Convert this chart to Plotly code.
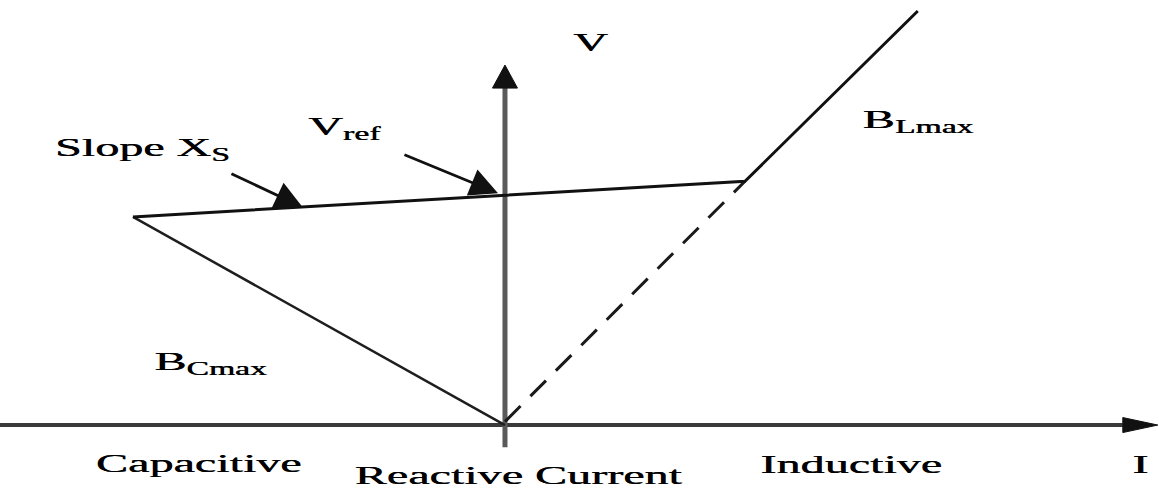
import plotly.graph_objects as go

# --- SVC steady-state V-I characteristic (per-unit) ---------------------
# Control range: slope line through V_ref
slope_I = [-1.55, 0.0, 1.0]
slope_V = [0.905, 1.0, 1.06]
# Inductive limit (B_Lmax) continuing above the knee
bl_I = [1.0, 1.72]
bl_V = [1.06, 1.80]
# Capacitive limit (B_Cmax) down to the origin
bc_I = [-1.55, 0.0]
bc_V = [0.905, 0.0]
# Extension of the B_Lmax line back to the origin
ext_I = [0.0, 1.0]
ext_V = [0.015, 1.06]

# Axis extents
I_min, I_max = -2.104, 2.725
V_min, V_max = -0.278, 1.848
I_axis_tip = 2.72
V_axis_tip = 1.565
V_axis_bottom = -0.096

# Pixel scale of the drawing (px per unit) for arrowhead sizes
PX_I, PX_V = 240.0, 230.0

labels = [
    # text, I, V
    ("V", 0.358, 1.665),
    ("V<sub>ref</sub>", -0.667, 1.29),
    ("Slope X<sub>S</sub>", -1.512, 1.20),
    ("B<sub>Lmax</sub>", 1.72, 1.32),
    ("B<sub>Cmax</sub>", -1.225, 0.27),
    ("Capacitive", -1.279, -0.168),
    ("Reactive Current", 0.058, -0.218),
    ("Inductive", 1.442, -0.172),
    ("I", 2.646, -0.172),
]

# Pointer arrows: (tail_I, tail_V, head_I, head_V)
pointers = [
    (-1.146, 1.096, -0.842, 0.946),
    (-0.425, 1.178, -0.029, 1.008),
]

fig = go.Figure()

# Horizontal (current) axis with arrowhead
h_len = 35 / PX_I
h_half = 7.5 / PX_V
fig.add_trace(go.Scatter(
    x=[I_min, I_axis_tip - h_len], y=[0, 0], mode="lines",
    line=dict(color="#3a3a3a", width=4), hoverinfo="skip"))
fig.add_trace(go.Scatter(
    x=[I_axis_tip - h_len, I_axis_tip, I_axis_tip - h_len, I_axis_tip - h_len],
    y=[h_half, 0, -h_half, h_half], mode="lines", fill="toself",
    fillcolor="#111111", line=dict(color="#111111", width=1), hoverinfo="skip"))

# Vertical (voltage) axis with arrowhead
v_len = 23 / PX_V
v_half = 12.5 / PX_I
fig.add_trace(go.Scatter(
    x=[0, 0], y=[V_axis_bottom, V_axis_tip - v_len], mode="lines",
    line=dict(color="#5a5a5a", width=5), hoverinfo="skip"))
fig.add_trace(go.Scatter(
    x=[-v_half, 0, v_half, -v_half],
    y=[V_axis_tip - v_len, V_axis_tip, V_axis_tip - v_len, V_axis_tip - v_len],
    mode="lines", fill="toself", fillcolor="#111111",
    line=dict(color="#111111", width=1), hoverinfo="skip"))

# Characteristic branches
fig.add_trace(go.Scatter(x=ext_I, y=ext_V, mode="lines",
                         line=dict(color="#1a1a1a", width=3, dash="22px,14px"),
                         hoverinfo="skip"))
fig.add_trace(go.Scatter(x=bc_I, y=bc_V, mode="lines",
                         line=dict(color="#1e1e1e", width=2.5), hoverinfo="skip"))
fig.add_trace(go.Scatter(x=slope_I + bl_I[1:], y=slope_V + bl_V[1:], mode="lines",
                         line=dict(color="#111111", width=3), hoverinfo="skip"))

annotations = []
for text, xi, yv in labels:
    annotations.append(dict(
        x=xi, y=yv, xref="x", yref="y", text=text, showarrow=False,
        xanchor="center", yanchor="middle",
        font=dict(family="Liberation Serif, Times New Roman, serif",
                  size=26, color="#000000",
                  shadow="0.6px 0 0 #000000")))

# Pointer arrows onto the slope line and V_ref
for tx, ty, hx, hy in pointers:
    annotations.append(dict(
        x=hx, y=hy, ax=tx, ay=ty, xref="x", yref="y", axref="x", ayref="y",
        text="", showarrow=True, arrowhead=2, arrowsize=2.0,
        arrowwidth=2.8, arrowcolor="#111111", standoff=0))

fig.update_layout(
    width=1159, height=489, autosize=False,
    margin=dict(l=0, r=0, t=0, b=0),
    paper_bgcolor="#ffffff", plot_bgcolor="#ffffff",
    showlegend=False,
    xaxis=dict(range=[I_min, I_max], visible=False, fixedrange=True),
    yaxis=dict(range=[V_min, V_max], visible=False, fixedrange=True),
    annotations=annotations,
)

# Widen the serif lettering horizontally about each label's own centre
stretch_js = """
var gd = document.getElementById('{plot_id}');
function widenText() {
  gd.querySelectorAll('text.annotation-text').forEach(function (t) {
    if (!t.textContent) { return; }
    t.removeAttribute('transform');
    var b = t.getBBox();
    var cx = b.x + b.width / 2;
    t.setAttribute('transform',
      'translate(' + cx + ',0) scale(1.85,1) translate(' + (-cx) + ',0)');
  });
}
widenText();
if (gd.on) { gd.on('plotly_afterplot', widenText); }
"""

fig.write_html("out.html", config={"displayModeBar": False},
               post_script=stretch_js)
